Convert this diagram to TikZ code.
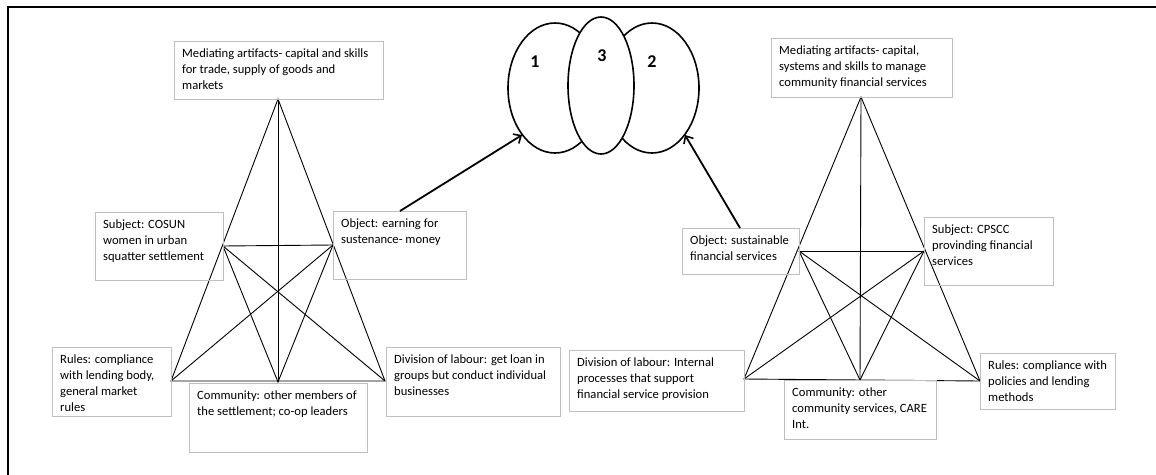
\documentclass[tikz,border=0pt]{standalone}
\usepackage{fontspec}
\setmainfont{Carlito}
\usetikzlibrary{calc,arrows.meta}
\definecolor{boxgray}{HTML}{BFBFBF}
\tikzset{
  box/.style={draw=boxgray, line width=0.9pt, inner sep=0pt, anchor=north west},
  txt/.style={inner sep=0pt, anchor=north west, align=left, font=\fontsize{12.6}{16}\selectfont},
  tri/.style={line width=0.9pt, black},
  blob/.style={line width=1.6pt, fill=white},
  arr/.style={line width=1.8pt, -{Straight Barb[length=6pt,width=11pt,line width=1.6pt]}},
  num/.style={font=\fontsize{18}{20}\selectfont\bfseries}
}
\newcommand{\mybox}[6]{% name, x, y, w, h, text
  \node[box, minimum width=#4pt, minimum height=#5pt] (#1) at (#2,#3) {};
  \node[txt] (#1t) at ($(#1.north west)+(8,7.5)$) {#6};
}
\begin{document}
\begin{tikzpicture}[x=1pt,y=-1pt]
\useasboundingbox (0,0) rectangle (1156,474);
% frame
\draw[line width=2pt] (8,480) -- (8,7) -- (1160,7);

% ---------- left triangle ----------
\coordinate (LA) at (278,99);
\coordinate (LBL) at (171,381);
\coordinate (LBR) at (385,381);
\coordinate (LBM) at (278,382);
\coordinate (LS) at (223,246);
\coordinate (LO) at (333,245);
\draw[tri] (LA) -- (LBL) -- (LBR) -- cycle;
\draw[tri] (LA) -- (LBM);
\draw[tri] (LS) -- (LO);
\draw[tri] (LS) -- (LBR);
\draw[tri] (LO) -- (LBL);
\draw[tri] (LS) -- (LBM) -- (LO);

\mybox{Lmed}{174}{41}{209}{58}{Mediating artifacts- capital and skills\\for trade, supply of goods and\\markets}
\mybox{Lsub}{95}{212}{128}{68}{Subject: COSUN\\women in urban\\squatter settlement}
\mybox{Lobj}{333}{211}{133}{68}{Object: earning for\\sustenance- money}
\mybox{Lrul}{52}{347}{119}{69}{Rules: compliance\\with lending body,\\general market\\rules}
\mybox{Lcom}{189}{383}{178}{69}{Community: other members of\\the settlement; co-op leaders}
\mybox{Ldiv}{386}{347}{174}{69}{Division of labour: get loan in\\groups but conduct individual\\businesses}

% ---------- right triangle ----------
\coordinate (RA) at (861,97);
\coordinate (RBL) at (744,379);
\coordinate (RBR) at (980,381);
\coordinate (RBM) at (860,380);
\coordinate (RO) at (799,251);
\coordinate (RS) at (924,251);
\draw[tri] (RA) -- (RBL) -- (RBR) -- cycle;
\draw[tri] (RA) -- (RBM);
\draw[tri] (RO) -- (RS);
\draw[tri] (RO) -- (RBR);
\draw[tri] (RS) -- (RBL);
\draw[tri] (RO) -- (RBM) -- (RS);

\mybox{Rmed}{771}{38}{181}{59}{Mediating artifacts- capital,\\systems and skills to manage\\community financial services}
\mybox{Robj}{682}{228}{117}{46}{Object: sustainable\\financial services}
\mybox{Rsub}{924}{217}{129}{68}{Subject: CPSCC\\provinding financial\\services}
\mybox{Rdiv}{569}{350}{175}{61}{Division of labour: Internal\\processes that support\\financial service provision}
\mybox{Rcom}{784}{380}{152}{59}{Community: other\\community services, CARE\\Int.}
\mybox{Rrul}{980}{353}{135}{56}{Rules: compliance with\\policies and lending\\methods}

% ---------- centre blobs ----------
\draw[blob] (555,88) ellipse [x radius=47, y radius=65];
\draw[blob] (652,88) ellipse [x radius=47, y radius=65];
\draw[blob] (601,85.5) ellipse [x radius=33, y radius=68.5];
\node[num] (n1) at (535,62) {1};
\node[num] (n3) at (602,56) {3};
\node[num] (n2) at (652,62) {2};

% ---------- arrows ----------
\coordinate (t1) at (522,135);
\coordinate (t2) at (685,135);
\draw[arr] ($(Lobj.north west)+(67,0)$) -- (t1);
\draw[arr] ($(Robj.north west)+(58,0)$) -- (t2);
\end{tikzpicture}
\end{document}
